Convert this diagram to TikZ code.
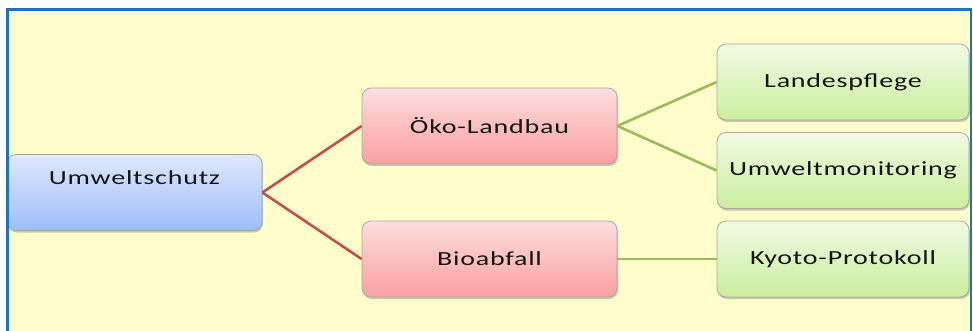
\documentclass[tikz,border=0pt]{standalone}
\usepackage{fontspec}
\newfontfamily\lblfont[FakeStretch=1.4,LetterSpace=4]{Carlito}
\usetikzlibrary{shadows}
\definecolor{bgy}{HTML}{FFFDCC}
\definecolor{frameblue}{HTML}{1E73BE}
\definecolor{bluetop}{HTML}{DFE8FD}
\definecolor{bluebot}{HTML}{9DBEF8}
\definecolor{pinktop}{HTML}{FDDEDF}
\definecolor{pinkbot}{HTML}{FAA0A0}
\definecolor{greentop}{HTML}{F0FAE3}
\definecolor{greenbot}{HTML}{CCEE9E}
\definecolor{redline}{HTML}{C0504D}
\definecolor{greenline}{HTML}{9BBB59}
\definecolor{boxedge}{HTML}{A8A8A0}
\definecolor{txt}{HTML}{141414}
\tikzset{
  box/.style={rectangle, rounded corners=9pt, draw=boxedge, line width=0.8pt,
    minimum width=255pt, minimum height=76pt, inner sep=0pt,
    font=\lblfont\fontsize{20}{24}\selectfont, text=txt,
    drop shadow={shadow xshift=1pt, shadow yshift=-2pt, opacity=0.35, fill=black!60}},
  bluebox/.style={box, top color=bluetop, bottom color=bluebot},
  pinkbox/.style={box, top color=pinktop, bottom color=pinkbot},
  greenbox/.style={box, top color=greentop, bottom color=greenbot, minimum width=252pt},
  lbl/.style={font=\lblfont\fontsize{20}{24}\selectfont, text=txt, inner sep=0pt},
  redcon/.style={draw=redline, line width=2.6pt},
  greencon/.style={draw=greenline, line width=2.6pt},
  frame/.style={draw=frameblue, line width=2.2pt}
}
\begin{document}
\begin{tikzpicture}[x=1pt,y=-1pt]
\useasboundingbox (0,0) rectangle (973,331);
\fill[white] (0,0) rectangle (973,331);
\fill[bgy] (7,9) rectangle (971,331);
% nodes
\node[bluebox] (u) at (134.5,192.5) {};
\node[lbl] (ut) at (134.5,178) {Umweltschutz};
\node[pinkbox] (o) at (489.5,126) {Öko-Landbau};
\node[pinkbox] (b) at (489.5,259) {Bioabfall};
\node[greenbox] (l) at (843,82) {Landespflege};
\node[greenbox] (m) at (843,170.5) {Umweltmonitoring};
\node[greenbox] (k) at (843,259) {Kyoto-Protokoll};
% connectors
\draw[redcon] (u.east) -- (o.west);
\draw[redcon] (u.east) -- (b.west);
\draw[greencon] (o.east) -- (l.west);
\draw[greencon] (o.east) -- (m.west);
\draw[greencon] (b.east) -- (k.west);
% frame
\coordinate (f1) at (7.5,331);
\coordinate (f2) at (7.5,9.5);
\coordinate (f3) at (971,9.5);
\coordinate (f4) at (971,331);
\draw[frame] (f1) -- (f2) -- (f3) -- (f4);
\end{tikzpicture}
\end{document}
